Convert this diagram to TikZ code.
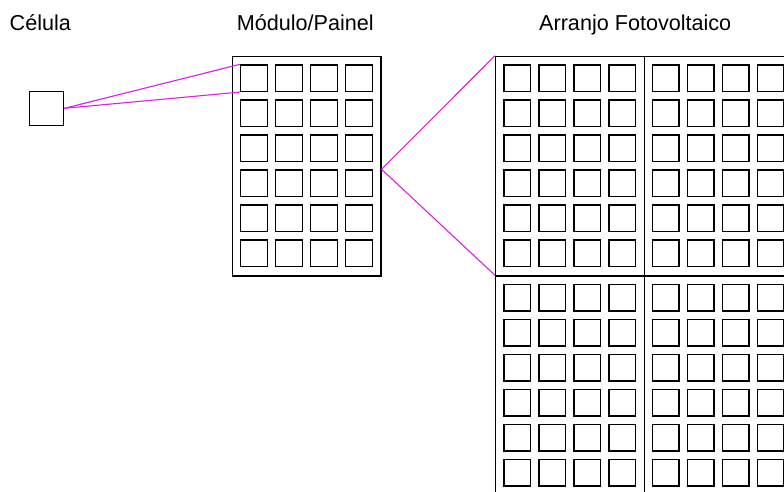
\documentclass[tikz,border=0pt]{standalone}
\usepackage{fontspec}
\setmainfont{Liberation Sans}
\definecolor{linkmag}{RGB}{220,30,230}
\newcommand\pvmodule[3]{%
  \node[panel] (#1) at (#2,#3) {};
  \foreach \i in {0,...,3} \foreach \j in {0,...,5}
    \node[pv] (#1-\i-\j) at ({#2+8.3+35*\i},{#3+8.6+35*\j}) {};
}
\begin{document}
\begin{tikzpicture}[x=1pt,y=-1pt,
  panel/.style={draw, line width=1.3pt, rectangle, inner sep=0pt, minimum width=148.6pt, minimum height=219.6pt, anchor=north west},
  pv/.style={draw, line width=1.3pt, rectangle, inner sep=0pt, minimum size=26.5pt, anchor=north west},
  link/.style={draw=linkmag, line width=1.1pt},
  title/.style={anchor=base west, inner sep=0pt, font=\fontsize{21.6}{25}\selectfont}]
\useasboundingbox (0,0) rectangle (784,492);
\clip (0,0) rectangle (784,492);
\node[title] (t1) at (9.5,30.5) {Célula};
\node[title] (t2) at (236.6,30.5) {Módulo/Painel};
\node[title] (t3) at (539,30.5) {Arranjo Fotovoltaico};
\node[draw, line width=1.3pt, rectangle, minimum size=34pt, inner sep=0pt] (cell) at (46.7,108.3) {};
\pvmodule{mod}{231.7}{55.7}
\pvmodule{arrA}{495}{55.7}
\pvmodule{arrB}{643.6}{55.7}
\pvmodule{arrC}{495}{275.3}
\pvmodule{arrD}{643.6}{275.3}
\draw[link] (cell.east) -- (mod-0-0.north west);
\draw[link] (cell.east) -- (mod-0-0.south west);
\coordinate (apex) at (mod.east |- mod-3-3.north);
\draw[link] (arrA.north west) -- (apex) -- (arrC.north west);
\end{tikzpicture}
\end{document}
